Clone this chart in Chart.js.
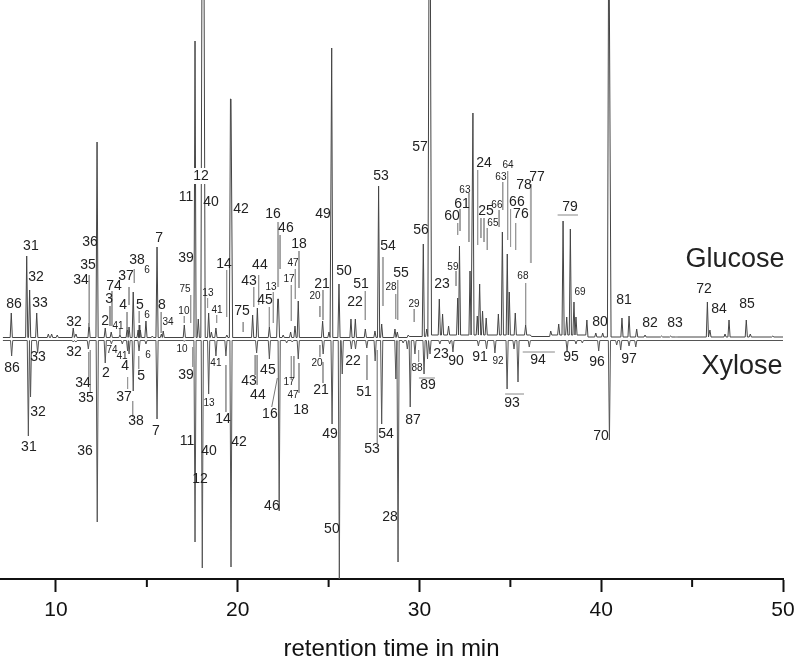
<!DOCTYPE html>
<html><head><meta charset="utf-8">
<script src="https://cdn.jsdelivr.net/npm/chart.js@4"></script>
<style>html,body{margin:0;padding:0;background:#fff}canvas{display:block}</style>
</head><body><canvas id="c" width="794" height="658"></canvas>
<script>
// Retention time in minutes, signal in arbitrary mirror units (glucose up, xylose down)
const glucoseTime=[7.54,8.39,8.55,8.94,9.58,9.76,10.07,10.95,11.1,11.82,12.26,12.71,13.04,13.52,13.92,14.02,14.25,14.52,14.58,14.64,14.95,15.3,15.56,15.8,15.9,17.06,17.65,17.83,18.03,18.07,18.11,18.15,18.4,18.55,18.8,19.4,19.6,19.63,19.66,20.82,21.08,21.74,22.2,22.24,22.5,22.91,23.15,23.33,24.67,25.02,25.17,25.57,26.23,26.47,27.02,27.55,27.75,27.92,28.65,28.78,29.38,30.21,30.4,30.52,30.56,30.6,31.09,31.27,31.6,32.1,32.2,32.78,32.94,33.18,33.31,33.47,33.67,34.34,34.56,34.83,34.94,35.27,35.84,36.1,37.22,37.66,37.9,38.1,38.3,38.5,38.61,39.21,39.7,40.08,40.4,40.44,40.48,41.14,41.53,41.95,42.41,43.32,43.82,44.15,45.84,45.98,46.81,47.03,47.98,48.2,49.44];
const glucoseSignal=[26,83,49,26,5,5,4,11,5,16,197,11,7,4,12,12,47,9,14,9,18,3,92,5,8,14,298,20,360,360,360,340,26,7,11,4,240,240,240,24,31,12,40,40,4,7,13,38,18,7,291,55,20,20,10,8,153,15,10,7,4,95,10,360,360,360,40,25,13,41,93,68,226,23,55,28,21,25,107,85,47,26,14,4,8,15,118,22,110,37,22,19,6,6,360,360,360,21,23,10,4,3,3,2,37,9,5,19,19,5,3];
const glucoseBaseFrom=[7,29.5,31,36.5,37.5,39.5];
const glucoseBaseLevel=[1.5,2.5,4,2.5,4,2];
const xyloseTime=[7.56,8.48,8.6,8.99,10.95,11.1,11.78,12.27,12.71,13.05,13.65,13.94,14.02,14.25,14.57,14.95,15.56,17.06,17.65,18.05,18.4,18.8,19.35,19.63,21.04,21.74,22.28,22.69,23.0,23.33,24.7,25.19,25.59,25.75,26.25,26.48,27.1,27.56,27.92,28.7,28.82,29.1,29.33,29.49,29.75,30.25,30.44,30.58,31.12,31.66,31.84,33.24,33.69,34.15,34.82,35.2,35.42,36.04,38.12,38.61,38.96,39.86,40.45,40.85,41.07,41.53,41.9];
const xyloseSignal=[-17,-97,-58,-14,-3,-3,-10,-183,-24,-5,-5,-12,-15,-52,-12,-5,-80,-2,-203,-229,-55,-17,-17,-228,-14,-20,-172,-4,-3,-20,-15,-85,-240,-35,-10,-10,-9,-22,-85,-40,-223,-4,-10,-68,-15,-35,-20,-15,-5,-5,-13,-7,-10,-14,-50,-10,-43,-8,-12,-5,-4,-12,-101,-6,-11,-7,-8];
const xyloseBaseFrom=[7];
const xyloseBaseLevel=[-1.5];
const traceStart=7.08, traceEnd=50;

const majorLabels=["86","31","32","33","32","34","35","36","2","3","74","4","37","38","5","7","8","39","11","12","40","42","14","75","43","44","45","16","46","18","21","49","50","51","22","53","54","55","56","57","23","60","61","24","25","66","76","78","77","79","80","81","82","83","72","84","85",
"86","33","32","34","35","36","32","31","2","4","5","37","38","7","39","14","11","40","12","42","43","44","45","16","46","18","21","49","50","22","51","53","54","28","87","89","23","90","91","93","94","95","96","97","70"];
const majorTime=[7.69,8.62,8.9,9.12,10.99,11.38,11.76,11.87,12.7,12.92,13.19,13.69,13.85,14.46,14.62,15.67,15.83,17.15,17.15,17.98,18.53,20.18,19.24,20.23,20.62,21.22,21.5,21.94,22.65,23.37,24.64,24.69,25.85,26.78,26.45,27.88,28.27,28.98,30.08,30.03,31.24,31.79,32.34,33.55,33.66,35.36,35.58,35.75,36.47,38.28,39.93,41.25,42.68,44.06,45.65,46.48,48.02,
7.58,9.01,10.99,11.49,11.65,11.6,9.01,8.51,12.75,13.8,14.68,13.74,14.4,15.5,17.15,19.19,17.21,18.42,17.92,20.07,20.62,21.11,21.66,21.77,21.88,23.48,24.58,25.08,25.18,26.34,26.95,27.39,28.16,28.38,29.64,30.47,31.18,32.01,33.33,35.09,36.52,38.34,39.77,41.53,39.99];
const majorLevel=[35,93,62,36,17,59,74,97,18,40,53,34,63,79,34,101,34,81,142,163,137,130,75,28,58,74,39,125,111,95,55,125,68,55,37,163,93,66,109,192,55,123,135,176,128,137,125,154,162,132,17,39,16,16,50,30,35,
-29,-18,-13,-44,-59,-112,-73,-108,-34,-27,-37,-58,-82,-92,-36,-80,-102,-112,-140,-103,-42,-56,-31,-75,-167,-71,-51,-95,-190,-22,-53,-110,-95,-178,-81,-46,-15,-22,-18,-64,-21,-18,-23,-20,-97];
const minorLabels=["41","6","6","34","75","10","13","41","13","47","17","20","28","29","59","63","63","64","66","65","68","69",
"74","41","6","10","13","41","17","47","20","88","92"];
const minorTime=[13.41,15.01,15.01,16.16,17.1,17.04,18.36,18.86,21.83,23.04,22.82,24.25,28.43,29.7,31.84,32.5,34.48,34.87,34.26,34.04,35.69,38.83,
13.08,13.63,15.06,16.93,18.42,18.8,22.82,23.04,24.36,29.86,34.32];
const minorLevel=[13,69,24,17,50,28,46,29,52,76,60,43,52,35,72,149,162,174,134,116,63,47,
-11,-17,-16,-10,-64,-24,-43,-56,-24,-29,-22];
const maskedLabel="12";
const traceNames=["Glucose","Xylose"];
const traceNameTime=[47.36,47.74];
const traceNameLevel=[79,-28];

const leaderTime=[11.83,12.97,13.08,13.52,13.91,14.02,14.31,14.58,15.79,17.06,17.41,18.34,18.84,19.39,20.3,20.88,21.15,21.74,21.96,22.33,23.17,22.95,23.37,24.52,24.69,27.02,28.8,28.69,29.71,32.01,32.1,32.23,32.72,33.2,33.38,33.55,33.73,34.38,34.58,34.85,35.01,35.29,35.84,
11.8,11.89,13.94,14.22,14.55,19.35,17.52,20.97,21.07,22.95,23.09,23.37,24.52,24.69,27.11,27.68,29.95];
const leaderTop=[64,33,48,10,27,52,70,28,27,23,44,41,24,69,17,52,64,32,47,104,70,54,88,33,49,48,59,45,30,68,116,130,146,169,121,121,111,129,157,168,130,116,56,
-13,-11,-38,-62,-17,-26,-8,-16,-16,-17,-17,-24,-6,-23,-16,-11,-11];
const leaderBottom=[12,13,13,4,9,34,56,16,6,16,16,31,16,22,7,32,34,12,16,70,40,18,51,22,19,19,19,20,17,53,104,108,97,94,101,97,89,112,129,99,92,89,14,
-38,-54,-50,-78,-30,-73,-28,-36,-46,-41,-39,-54,-18,-44,-41,-104,-23];
const heavyLeaderTime=[22.22,27.99,36.13,12.97,20.97];
const heavyLeaderTop=[117,82,155,33,-16];
const heavyLeaderBottom=[52,33,76,13,-36];
const pointerTime=[22.18,21.87];
const pointerLevel=[-39,-68];
const groupBarStart=[37.6,29.97,34.71,35.68];
const groupBarEnd=[38.72,30.85,35.75,37.45];
const groupBarLevel=[124,-39,-55,-13];
const xTicksShown=[10,20,30,40,50];
const minorTicks=[15,25,35,45];

const halfWidth=0.06;
function baseAt(t,from,level){
  let b=level[0];
  from.forEach((f,i)=>{if(t>=f)b=level[i];});
  return b;
}
function buildTrace(times,signal,from,level){
  const base=t=>baseAt(t,from,level);
  const pts=[{x:traceStart,y:base(traceStart)}];
  times.forEach((t,i)=>{
    if(i>0){
      const gap=t-times[i-1];
      if(gap>=2*halfWidth){pts.push({x:times[i-1]+halfWidth,y:base(t)},{x:t-halfWidth,y:base(t)});}
      else if(gap>=0.05){pts.push({x:(t+times[i-1])/2,y:base(t)});}
    } else pts.push({x:t-halfWidth,y:base(t)});
    pts.push({x:t,y:signal[i]});
  });
  const last=times[times.length-1];
  pts.push({x:last+halfWidth,y:base(last)},{x:traceEnd,y:base(traceEnd)});
  return pts;
}
function segments(times,a,b){
  const pts=[];
  times.forEach((t,i)=>{pts.push({x:t,y:a[i]},{x:t,y:b[i]},{x:t,y:null});});
  return pts;
}
function bars(a,b,l){
  const pts=[];
  a.forEach((s,i)=>{pts.push({x:s,y:l[i]},{x:b[i],y:l[i]},{x:b[i],y:null});});
  return pts;
}
const lineBase={pointRadius:0,tension:0,fill:false,spanGaps:false};
const textFont='"Liberation Sans",Arial,sans-serif';
const annotate={
  id:'annotate',
  afterDatasetsDraw(chart){
    const {ctx,scales:{x,y}}=chart;
    ctx.save();
    ctx.textAlign='center';ctx.textBaseline='middle';ctx.fillStyle='#222';
    const draw=(txt,t,l,size)=>{
      ctx.font=size+'px '+textFont;
      const px=x.getPixelForValue(t),py=y.getPixelForValue(l);
      if(txt===maskedLabel&&l>0){
        ctx.save();ctx.fillStyle='#fff';ctx.fillRect(px-9,py-8,18,16);ctx.restore();
      }
      ctx.fillText(txt,px,py);
    };
    majorLabels.forEach((s,i)=>draw(s,majorTime[i],majorLevel[i],14));
    minorLabels.forEach((s,i)=>draw(s,minorTime[i],minorLevel[i],10));
    traceNames.forEach((s,i)=>draw(s,traceNameTime[i],traceNameLevel[i],27));
    // short minor ticks
    ctx.strokeStyle='#111';ctx.lineWidth=2;
    minorTicks.forEach(v=>{
      const px=x.getPixelForValue(v);
      ctx.beginPath();ctx.moveTo(px,chart.chartArea.bottom);ctx.lineTo(px,chart.chartArea.bottom+8);ctx.stroke();
    });
    ctx.restore();
  }
};
new Chart(document.getElementById('c'),{
  type:'line',
  data:{datasets:[
    {...lineBase,label:'leaders',data:segments(leaderTime,leaderTop,leaderBottom),borderColor:'#999',borderWidth:1},
    {...lineBase,label:'heavy leaders',data:segments(heavyLeaderTime,heavyLeaderTop,heavyLeaderBottom),borderColor:'#aaa',borderWidth:2},
    {...lineBase,label:'pointer',data:pointerTime.map((t,i)=>({x:t,y:pointerLevel[i]})),borderColor:'#777',borderWidth:1},
    {...lineBase,label:'groups',data:bars(groupBarStart,groupBarEnd,groupBarLevel),borderColor:'#888',borderWidth:1},
    {...lineBase,label:'Xylose',data:buildTrace(xyloseTime,xyloseSignal,xyloseBaseFrom,xyloseBaseLevel),borderColor:'#555',borderWidth:1},
    {...lineBase,label:'Glucose',data:buildTrace(glucoseTime,glucoseSignal,glucoseBaseFrom,glucoseBaseLevel),borderColor:'#444',borderWidth:1}
  ]},
  options:{
    responsive:false,animation:false,parsing:false,normalized:true,
    layout:{padding:{left:0,right:11,top:0,bottom:0}},
    plugins:{legend:{display:false},tooltip:{enabled:false},title:{display:false}},
    scales:{
      x:{type:'linear',min:6.92,max:50,
        afterFit(s){s.height=79;s.paddingLeft=0;s.paddingRight=0;},
        border:{display:true,color:'#111',width:2},
        grid:{drawOnChartArea:false,drawTicks:true,tickLength:13,tickWidth:2,tickColor:'#111'},
        afterBuildTicks(s){s.ticks=xTicksShown.map(v=>({value:v}));},
        ticks:{autoSkip:false,includeBounds:false,maxRotation:0,padding:6,color:'#111',font:{family:textFont,size:21},callback:v=>String(v)},
        title:{display:true,text:'retention time in min',color:'#111',font:{family:textFont,size:24},padding:{top:6,bottom:-6}}
      },
      y:{display:false,min:-240,max:339}
    }
  },
  plugins:[annotate]
});
</script></body></html>
